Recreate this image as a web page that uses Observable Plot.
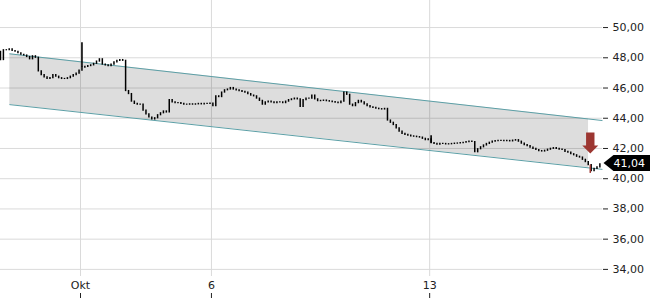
<!DOCTYPE html>
<html><head><meta charset="utf-8">
<script src="https://cdn.jsdelivr.net/npm/d3@7"></script>
<script src="https://cdn.jsdelivr.net/npm/@observablehq/plot@0.6"></script>
<style>body{margin:0;background:#fff;} svg{display:block}</style>
</head><body><div id="chart"></div>
<script>
// trading days shown (one slot per trading day, no weekend gaps)
const days = ["29.09","30.09","01.10","02.10","03.10","06.10","07.10","08.10","09.10","10.10","13.10","14.10","15.10","16.10"];
// intraday closing prices, 15 bars per trading day
const closes = [
  [48.4, 48.4, 47.85, 48.5, 48.5, 48.55, 48.45, 48.4, 48.3, 48.2, 48.15, 48.05, 47.9, 48.1, 48.0],
  [47.1, 46.85, 46.7, 46.6, 46.65, 46.85, 46.75, 46.65, 46.6, 46.6, 46.65, 46.75, 46.85, 46.95, 47.15],
  [47.35, 47.4, 47.45, 47.5, 47.6, 47.75, 47.9, 47.55, 47.5, 47.45, 47.55, 47.7, 47.8, 47.85, 47.8],
  [45.8, 45.6, 45.1, 44.95, 44.9, 44.9, 44.5, 44.25, 44.05, 43.92, 44.0, 44.2, 44.33, 44.45, 44.38],
  [45.2, 45.05, 45.0, 45.0, 44.95, 44.9, 44.9, 44.92, 44.9, 44.92, 44.95, 44.92, 44.95, 44.95, 44.97],
  [44.8, 45.45, 45.4, 45.7, 45.85, 45.9, 46.0, 45.9, 45.85, 45.8, 45.75, 45.7, 45.6, 45.5, 45.45],
  [45.3, 45.15, 44.9, 45.05, 45.1, 45.05, 45.0, 45.05, 45.05, 45.0, 45.1, 45.2, 45.25, 45.3, 45.25],
  [44.75, 45.2, 45.3, 45.3, 45.5, 45.25, 45.13, 45.15, 45.17, 45.13, 45.1, 45.06, 45.03, 45.0, 45.1],
  [45.7, 45.55, 44.9, 44.8, 45.0, 45.15, 45.05, 44.92, 44.8, 44.72, 44.68, 44.63, 44.6, 44.58, 44.62],
  [43.85, 43.7, 43.55, 43.33, 43.12, 42.97, 42.9, 42.85, 42.8, 42.78, 42.75, 42.72, 42.64, 42.55, 42.6],
  [42.35, 42.3, 42.25, 42.3, 42.3, 42.27, 42.28, 42.3, 42.32, 42.33, 42.35, 42.38, 42.42, 42.45, 42.43],
  [41.75, 41.95, 42.08, 42.2, 42.3, 42.38, 42.45, 42.48, 42.5, 42.5, 42.48, 42.5, 42.47, 42.52, 42.55],
  [42.45, 42.32, 42.22, 42.15, 42.05, 41.97, 41.9, 41.83, 41.8, 41.85, 41.92, 41.98, 42.02, 41.98, 41.93],
  [41.9, 41.78, 41.72, 41.62, 41.55, 41.45, 41.4, 41.25, 41.1, 40.9, 40.5, 40.65, 40.75, 40.95, 41.04]
];
// opening wicks (day index, bar index, high)
const wickDay = [2, 10];
const wickBar = [0, 0];
const wickHigh = [49.0, 42.85];
// x axis ticks (trading-day slot) and their labels
const xTickPos = [2, 5, 10];
const xTickLabels = ["Okt", "6", "13"];
// y axis ticks
const yTicks = [34, 36, 38, 40, 42, 44, 46, 48, 50];
// trend channel (start / end in trading-day slots, prices)
const channelT = [0.38, 13.95];
const channelUpper = [48.26, 43.85];
const channelLower = [44.9, 40.62];
const channelFillEndT = 13.64;
// last price tag
const lastPrice = 41.04;
// sell signal
const signalT = 13.68;
const signalHigh = 40.9;
const signalLow = 40.35;

const xDomain = [0.167, 13.96];
const yDomain = [33.53, 51.79];

const fmt = d => d.toFixed(2).replace(".", ",");
const slot = (d, i) => d + (i + 0.5) / closes[d].length;

// bars: open = previous close
const rows = [];
let prev = null;
closes.forEach((arr, d) => arr.forEach((p, i) => {
  const o = prev == null ? p : prev;
  rows.push({t: slot(d, i), hi: Math.max(o, p), lo: Math.min(o, p)});
  prev = p;
}));
const wicks = wickDay.map((d, k) => ({t: slot(d, wickBar[k]), hi: wickHigh[k], lo: closes[d][wickBar[k]]}));

const interp = (a, tt) => a[0] + (a[1] - a[0]) * (tt - channelT[0]) / (channelT[1] - channelT[0]);
const fillData = [channelT[0], channelFillEndT].map(tt => ({t: tt, lo: interp(channelLower, tt), hi: interp(channelUpper, tt)}));
const upperData = channelT.map((tt, i) => ({t: tt, p: channelUpper[i]}));
const lowerData = channelT.map((tt, i) => ({t: tt, p: channelLower[i]}));

const tagSymbol = {draw(ctx) {
  ctx.moveTo(1, 0); ctx.lineTo(11, -8); ctx.lineTo(60, -8); ctx.lineTo(60, 8); ctx.lineTo(11, 8); ctx.closePath();
}};
const arrowSymbol = {draw(ctx) {
  ctx.moveTo(-4.2, -32.5); ctx.lineTo(4.2, -32.5); ctx.lineTo(4.2, -19.5); ctx.lineTo(8, -19.5);
  ctx.lineTo(0, -11.7); ctx.lineTo(-8, -19.5); ctx.lineTo(-4.2, -19.5); ctx.closePath();
}};

const chart = Plot.plot({
  width: 650, height: 300,
  marginTop: 0, marginBottom: 24, marginLeft: 0, marginRight: 48,
  style: {fontFamily: "DejaVu Sans", fontSize: "11px", color: "#222", background: "#fff"},
  x: {domain: xDomain, label: null},
  y: {domain: yDomain, label: null},
  marks: [
    Plot.gridY(yTicks, {stroke: "#dadada", strokeOpacity: 1}),
    Plot.gridX(xTickPos, {stroke: "#dadada", strokeOpacity: 1}),
    Plot.areaY(fillData, {x: "t", y1: "lo", y2: "hi", fill: "black", fillOpacity: 0.135}),
    Plot.line(upperData, {x: "t", y: "p", stroke: "#5c9fa6", strokeWidth: 1}),
    Plot.line(lowerData, {x: "t", y: "p", stroke: "#5c9fa6", strokeWidth: 1}),
    Plot.ruleX(rows, {x: "t", y1: "hi", y2: "lo", stroke: "black", strokeWidth: 1.5, insetTop: -0.6, insetBottom: -0.6, clip: true}),
    Plot.ruleX(wicks, {x: "t", y1: "hi", y2: "lo", stroke: "black", strokeWidth: 1.6}),
    Plot.ruleX([signalT], {x: d => d, y1: signalHigh, y2: signalLow, stroke: "#9c3631", strokeWidth: 1.5}),
    Plot.dot([{t: signalT, p: signalHigh}], {x: "t", y: "p", symbol: arrowSymbol, fill: "#9c3631", stroke: null, r: 3}),
    Plot.axisY(yTicks, {anchor: "right", tickSize: 5, tickPadding: 5, tickFormat: fmt, label: null}),
    Plot.axisX(xTickPos, {anchor: "bottom", tickSize: 0, tickPadding: 5, tickFormat: d => xTickLabels[xTickPos.indexOf(d)], label: null}),
    Plot.axisX(xTickPos, {anchor: "bottom", tickSize: 5, tickPadding: 0, tickFormat: () => "", dy: 17, label: null}),
    Plot.dot([{t: xDomain[1], p: lastPrice}], {x: "t", y: "p", symbol: tagSymbol, fill: "black", stroke: null, r: 3}),
    Plot.text([{t: xDomain[1], p: lastPrice}], {x: "t", y: "p", text: d => fmt(d.p), dx: 11, textAnchor: "start", fill: "white", fontSize: 11})
  ]
});
document.getElementById("chart").append(chart);
</script>
</body></html>
